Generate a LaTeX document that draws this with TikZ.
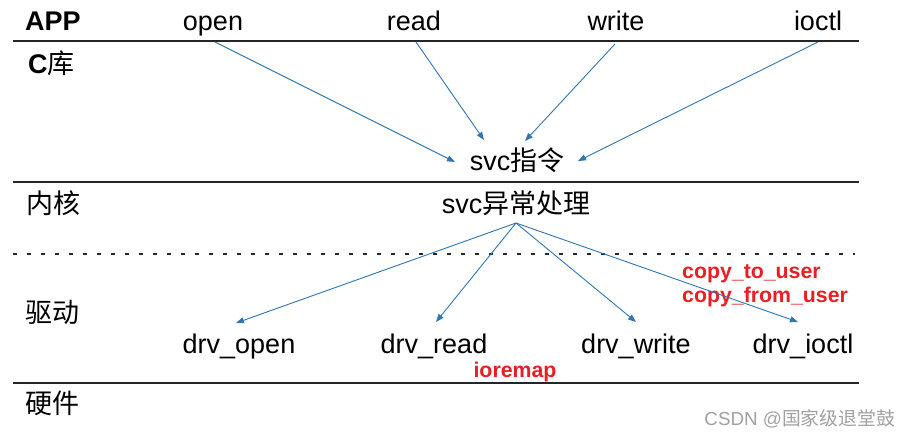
\documentclass[tikz,border=0pt]{standalone}
\usepackage{fontspec}
\setmainfont{Liberation Sans}
\newfontfamily\cjk{Noto Sans CJK SC}
\usetikzlibrary{arrows.meta}
\definecolor{arrowblue}{RGB}{46,117,182}
\definecolor{labred}{RGB}{235,30,35}
\definecolor{wmgray}{RGB}{160,160,160}
\begin{document}
\begin{tikzpicture}[x=1pt,y=-1pt,
  lbl/.style={inner sep=0pt,font=\fontsize{27}{30}\selectfont},
  redlbl/.style={inner sep=0pt,text=labred,font=\fontsize{21.3}{24}\selectfont\bfseries},
  layer/.style={line width=2pt,draw=black!85},
  conn/.style={draw=arrowblue,line width=0.9pt,-{Triangle[width=6pt,length=8pt]}}]
\useasboundingbox (0,0) rectangle (911,437);
% layer separators
\coordinate (l1a) at (13,41);  \coordinate (l1b) at (859,41);
\coordinate (l2a) at (13,182); \coordinate (l2b) at (859,182);
\coordinate (l3a) at (13,254); \coordinate (l3b) at (855,254);
\coordinate (l4a) at (13,383); \coordinate (l4b) at (859,383);
\draw[layer] (l1a) -- (l1b);
\draw[layer] (l2a) -- (l2b);
\draw[line width=2pt,draw=black!85,dash pattern=on 4pt off 10pt] (l3a) -- (l3b);
\draw[layer] (l4a) -- (l4b);
% layer names
\node[lbl,anchor=base west,font=\fontsize{27}{30}\selectfont\bfseries] (app) at (25,30) {APP};
\node[lbl,anchor=base west] (clib) at (28,73) {\textbf{C}\cjk 库};
\node[lbl,anchor=base west] (kernel) at (26,213) {\cjk 内核};
\node[lbl,anchor=base west] (driver) at (25,322) {\cjk 驱动};
\node[lbl,anchor=base west] (hw) at (25,413) {\cjk 硬件};
% app calls
\node[lbl,anchor=base] (open) at (213,30) {open};
\node[lbl,anchor=base] (read) at (414,30) {read};
\node[lbl,anchor=base] (write) at (616,30) {write};
\node[lbl,anchor=base] (ioctl) at (818,30) {ioctl};
% svc
\node[lbl,anchor=base] (svc) at (517,170) {svc{\cjk 指令}};
\node[lbl,anchor=base] (svch) at (516,213) {svc{\cjk 异常处理}};
% drivers
\node[lbl,anchor=base] (dopen) at (239,353) {drv\_open};
\node[lbl,anchor=base] (dread) at (434,353) {drv\_read};
\node[lbl,anchor=base] (dwrite) at (636,353) {drv\_write};
\node[lbl,anchor=base] (dioctl) at (803,353) {drv\_ioctl};
% red notes
\node[redlbl,anchor=base] (iorm) at (515,377) {ioremap};
\node[redlbl,anchor=base west] (ctu) at (682,278) {copy\_to\_user};
\node[redlbl,anchor=base west] (cfu) at (682,302) {copy\_from\_user};
% watermark
\node[inner sep=0pt,anchor=base east,text=wmgray,font=\fontsize{18.8}{20}\selectfont] (wm) at (895,425) {CSDN @{\cjk 国家级退堂鼓}};
% arrow endpoints
\coordinate (sOpen) at (215,42);
\coordinate (sRead) at (416,42);
\coordinate (sWrite) at (615,44);
\coordinate (sIoctl) at (818,42);
\coordinate (eOpen) at (455,162);
\coordinate (eRead) at (484,140);
\coordinate (eWrite) at (525,141);
\coordinate (eIoctl) at (578,161);
\coordinate (hub) at (516,223);
\coordinate (tOpen) at (236,323);
\coordinate (tRead) at (436,322);
\coordinate (tWrite) at (636,322);
\coordinate (tIoctl) at (798,322);
\draw[conn] (sOpen) -- (eOpen);
\draw[conn] (sRead) -- (eRead);
\draw[conn] (sWrite) -- (eWrite);
\draw[conn] (sIoctl) -- (eIoctl);
\draw[conn] (hub) -- (tOpen);
\draw[conn] (hub) -- (tRead);
\draw[conn] (hub) -- (tWrite);
\draw[conn] (hub) -- (tIoctl);
\end{tikzpicture}
\end{document}
